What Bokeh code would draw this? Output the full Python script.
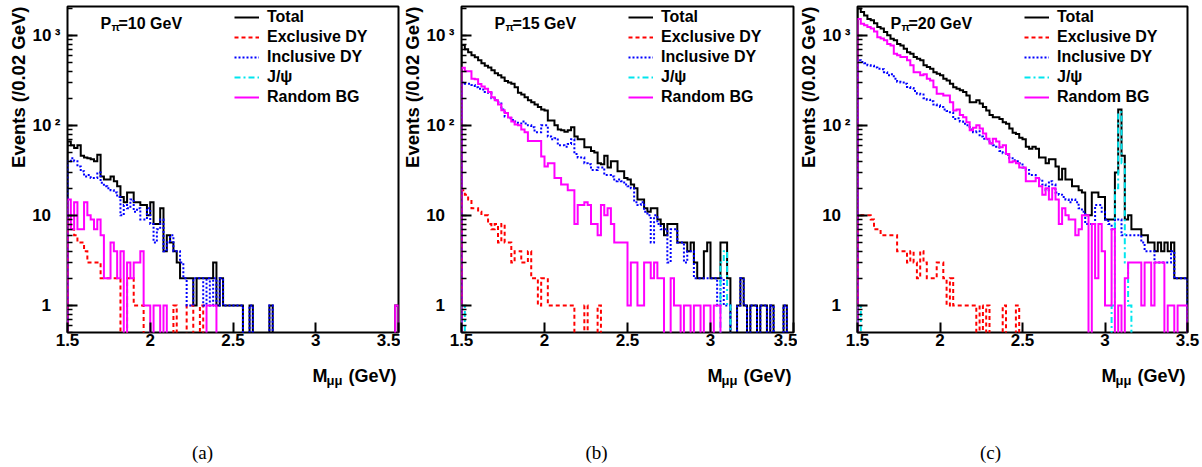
import math
from bokeh.plotting import figure
from bokeh.models import (Range1d, FixedTicker, CustomJSTickFormatter,
                          Label, Legend, LegendItem, Title)
from bokeh.layouts import row, column
from bokeh.embed import file_html
from bokeh.resources import INLINE

# ---------------- data (events per 0.02 GeV bin, 1.50 -> 3.50 GeV) ----------------
BIN_LO = 1.5
BIN_W = 0.02
N_BINS = 100
XTICKS = [1.5, 2.0, 2.5, 3.0, 3.5]
BEAM = ["10", "15", "20"]
CAPTIONS = ["(a)", "(b)", "(c)"]
SERIES_NAMES = ["Total", "Exclusive DY", "Inclusive DY", "J/\u03c8", "Random BG"]

total_10 = [66, 60, 56, 60, 46, 44, 43, 42, 40, 47,
            27, 25, 25, 27, 24, 21, 16, 14, 18, 18,
            14, 14, 13, 13, 10, 14, 8, 8, 12, 4,
            6, 5, 4, 3, 2, 2, 2, 2, 1, 2,
            2, 2, 2, 2, 3, 1, 2, 1, 1, 1,
            1, 1, 1, 0, 0, 1, 0, 0, 0, 0,
            0, 1, 0, 0, 0, 0, 0, 0, 0, 0,
            0, 0, 0, 0, 0, 0, 0, 0, 0, 0,
            0, 0, 0, 0, 0, 0, 0, 0, 0, 0,
            0, 0, 0, 0, 0, 0, 0, 0, 0, 1]
excl_10 = [9, 7, 6, 5, 5, 4, 3, 3, 3, 3,
           2, 2, 2, 2, 2, 2, 0, 0, 2, 2,
           1, 1, 1, 0, 0, 0, 0, 0, 0, 0,
           0, 0, 1, 0, 0, 0, 1, 1, 0, 0,
           1, 0, 0, 0, 0, 0, 0, 0, 0, 0]
incl_10 = [40, 43, 40, 35, 31, 27, 28, 26, 26, 30,
           23, 21, 20, 19, 18, 16, 10, 13, 12, 15,
           11, 12, 9, 9, 12, 8, 5, 7, 9, 4,
           5, 6, 4, 4, 3, 2, 1, 1, 2, 2,
           2, 1, 2, 1, 2, 1, 2, 1, 1, 1,
           1, 1, 1, 0, 0, 1, 0, 0, 0, 0,
           0, 1, 0, 0, 0, 0, 0, 0, 0, 0]
jpsi_10 = [0, 0, 0, 0, 0, 0, 0, 0, 0, 0]
rand_10 = [15, 7, 14, 7, 7, 14, 10, 9, 7, 9,
           6, 2, 2, 5, 4, 2, 4, 0, 3, 2,
           3, 3, 4, 1, 1, 0, 1, 1, 0, 1,
           0, 0, 0, 0, 0, 0, 0, 0, 0, 0,
           0, 0, 1, 1, 1, 0, 0, 0, 0, 0,
           0, 0, 0, 0, 0, 0, 0, 0, 0, 0,
           0, 0, 0, 0, 0, 0, 0, 0, 0, 0,
           0, 0, 0, 0, 0, 0, 0, 0, 0, 0,
           0, 0, 0, 0, 0, 0, 0, 0, 0, 0,
           0, 0, 0, 0, 0, 0, 0, 0, 0, 1]

total_15 = [780, 700, 650, 600, 570, 530, 490, 460, 440, 410,
            380, 360, 340, 310, 300, 290, 265, 230, 220, 205,
            190, 180, 170, 160, 150, 146, 113, 113, 100, 90,
            88, 85, 88, 95, 75, 70, 70, 57, 57, 52,
            50, 38, 37, 46, 34, 40, 40, 31, 31, 26,
            25, 22, 20, 15, 15, 12, 11, 12, 12, 9,
            8, 6, 8, 8, 8, 5, 5, 5, 4, 5,
            3, 2, 2, 4, 5, 2, 2, 2, 5, 5,
            2, 0, 0, 1, 2, 1, 0, 1, 1, 0,
            1, 1, 0, 1, 0, 0, 0, 1, 0, 0]
excl_15 = [19, 17, 15, 12, 12, 11, 10, 10, 8, 7,
           8, 5, 8, 5, 5, 3, 4, 4, 3, 3,
           4, 2, 2, 1, 2, 2, 1, 1, 1, 1,
           1, 1, 1, 1, 0, 0, 0, 1, 0, 0,
           0, 1, 0, 0, 0, 0, 0, 0, 0, 0]
incl_15 = [300, 290, 290, 280, 265, 255, 250, 235, 230, 200,
           190, 180, 150, 125, 120, 115, 110, 105, 110, 105,
           100, 95, 84, 84, 100, 100, 75, 70, 72, 60,
           60, 58, 62, 70, 48, 44, 44, 38, 37, 32,
           32, 34, 34, 28, 28, 27, 24, 25, 24, 22,
           21, 20, 14, 13, 14, 11, 10, 5, 10, 8,
           7, 7, 3, 7, 7, 5, 5, 3, 4, 4,
           2, 2, 2, 2, 2, 2, 2, 1, 2, 1,
           1, 0, 0, 1, 2, 1, 0, 1, 1, 0,
           1, 1, 0, 1, 0, 0, 0, 1, 0, 0]
jpsi_15 = [1, 0, 0, 0, 0, 0, 0, 0, 0, 0,
           0, 0, 0, 0, 0, 0, 0, 0, 0, 0,
           0, 0, 0, 0, 0, 0, 0, 0, 0, 0,
           0, 0, 0, 0, 0, 0, 0, 0, 0, 0,
           0, 0, 0, 0, 0, 0, 0, 0, 0, 0,
           0, 0, 0, 0, 0, 0, 0, 0, 0, 0,
           0, 0, 0, 0, 0, 0, 0, 0, 0, 0,
           0, 0, 0, 0, 0, 0, 0, 0, 3, 4,
           1, 0, 0, 0, 0, 0, 0, 0, 0, 0]
rand_15 = [437, 400, 400, 330, 326, 288, 270, 255, 235, 205,
           190, 170, 147, 137, 122, 110, 102, 100, 90, 84,
           67, 67, 67, 67, 45, 35, 38, 38, 26, 26,
           22, 22, 19, 19, 8, 13, 13, 14, 13, 8,
           8, 6, 13, 10, 12, 8, 5, 5, 5, 5,
           1, 3, 3, 1, 1, 3, 3, 2, 3, 2,
           2, 0, 0, 2, 1, 1, 0, 1, 1, 0,
           1, 1, 0, 1, 1, 0, 1, 1, 0, 0]

total_20 = [1980, 1815, 1660, 1520, 1470, 1360, 1240, 1190, 1090, 1000,
            915, 880, 800, 770, 710, 650, 625, 575, 550, 530,
            465, 445, 425, 390, 375, 360, 330, 315, 290, 265,
            255, 245, 235, 215, 180, 180, 190, 175, 160, 146,
            130, 123, 123, 118, 108, 104, 92, 83, 80, 73,
            70, 58, 55, 58, 55, 44, 44, 38, 42, 42,
            35, 25, 33, 25, 25, 21, 21, 19, 18, 10,
            10, 18, 18, 16, 16, 9, 9, 9, 30, 150,
            46, 9, 10, 7, 7, 7, 6, 6, 5, 5,
            4, 5, 4, 5, 4, 5, 2, 2, 2, 2]
excl_20 = [10, 10, 10, 10, 9, 7, 7, 6, 6, 6,
           6, 6, 4, 4, 4, 3, 4, 3, 2, 4,
           3, 2, 2, 2, 3, 3, 2, 1, 2, 1,
           1, 1, 1, 1, 1, 1, 0, 1, 0, 1,
           0, 0, 0, 0, 1, 0, 0, 0, 1, 0]
incl_20 = [530, 507, 490, 464, 460, 440, 425, 420, 390, 360,
           370, 330, 305, 300, 290, 267, 260, 240, 225, 220,
           200, 193, 185, 170, 167, 160, 150, 144, 140, 118,
           120, 110, 104, 100, 90, 84, 86, 75, 71, 70,
           63, 60, 58, 52, 49, 47, 43, 41, 40, 38,
           34, 32, 28, 28, 26, 25, 22, 19, 24, 22,
           18, 17, 16, 15, 14, 15, 14, 12, 11, 8,
           8, 8, 13, 13, 11, 9, 8, 7, 9, 9,
           6, 6, 6, 6, 6, 6, 5, 4, 4, 4,
           3, 3, 3, 3, 3, 4, 2, 2, 2, 2]
jpsi_20 = [1, 0, 0, 0, 0, 0, 0, 0, 0, 0,
           0, 0, 0, 0, 0, 0, 0, 0, 0, 0,
           0, 0, 0, 0, 0, 0, 0, 0, 0, 0,
           0, 0, 0, 0, 0, 0, 0, 0, 0, 0,
           0, 0, 0, 0, 0, 0, 0, 0, 0, 0,
           0, 0, 0, 0, 0, 0, 0, 0, 0, 0,
           0, 0, 0, 0, 0, 0, 0, 0, 0, 0,
           0, 0, 0, 0, 0, 0, 0, 1, 20, 140,
           38, 3, 1, 0, 0, 0, 0, 0, 0, 0]
rand_20 = [1520, 1345, 1290, 1240, 1190, 1100, 950, 920, 880, 800,
           770, 625, 600, 575, 575, 530, 465, 390, 390, 360,
           370, 330, 315, 265, 225, 225, 215, 215, 180, 146,
           150, 130, 123, 108, 88, 94, 100, 92, 81, 71,
           63, 71, 66, 57, 60, 48, 39, 40, 38, 34,
           34, 24, 24, 24, 26, 21, 17, 20, 15, 20,
           15, 8, 12, 10, 9, 9, 6, 7, 10, 10,
           0, 8, 2, 8, 4, 1, 1, 7, 0, 1,
           0, 2, 3, 3, 3, 3, 1, 3, 3, 1,
           3, 3, 3, 0, 1, 1, 0, 1, 1, 1]

PANELS = [
    [total_10, excl_10, incl_10, jpsi_10, rand_10],
    [total_15, excl_15, incl_15, jpsi_15, rand_15],
    [total_20, excl_20, incl_20, jpsi_20, rand_20],
]

# ---------------- styles / layout ----------------
FONT = "Liberation Sans"
STYLES = [
    dict(line_color="black", line_width=2),
    dict(line_color="#ff0000", line_width=2, line_dash="4 3"),
    dict(line_color="#0000ff", line_width=2, line_dash="2 2"),
    dict(line_color="#00e5ee", line_width=2, line_dash="6 3 2 3"),
    dict(line_color="#ff00ff", line_width=2),
]
FLOOR = 0.05  # empty bins drop below the frame, as in ROOT
Y_LO, Y_HI = 0.5, 2090.0
EDGES = [round(BIN_LO + BIN_W * i, 4) for i in range(N_BINS + 1)]

# (figure width, left border, right border) per panel
GEOM = [(400, 67, 2), (397, 61, 4), (405, 58, 15)]
TOP_B, FRAME_H, BOT_B = 6, 326, 24
NOTE_H = 467 - (TOP_B + FRAME_H + BOT_B)

# ROOT-like log labels: 1, 10, 10^2, 10^3 (exponent sits next to the axis)
Y_FORMAT_JS = (
    "const e = Math.round(Math.log10(tick));"
    "const sup = {2: '\u00b2', 3: '\u00b3', 4: '\u2074'};"
    "if (e <= 1) { return tick.toFixed(0) + '\u2007'; }"
    "return '10\u2009' + sup[e];"
)


def hist_outline(vals):
    v = (list(vals) + [0] * N_BINS)[:N_BINS]
    xs, ys = [EDGES[0]], [FLOOR]
    for i, c in enumerate(v):
        y = c if c > 0 else FLOOR
        xs += [EDGES[i], EDGES[i + 1]]
        ys += [y, y]
    xs.append(EDGES[-1])
    ys.append(FLOOR)
    return xs, ys


def lab(p, x, y, text, size, units="screen", **kw):
    opts = dict(x=x, y=y, x_units=units, y_units=units, text=text,
                text_font=FONT, text_font_style="bold", text_font_size=size,
                text_color="black", text_baseline="alphabetic", text_align="left")
    opts.update(kw)
    p.add_layout(Label(**opts))


def make_panel(k):
    width, bl, br = GEOM[k]
    p = figure(width=width, height=TOP_B + FRAME_H + BOT_B, x_range=Range1d(1.5, 3.5),
               y_range=Range1d(Y_LO, Y_HI), y_axis_type="log",
               output_backend="svg", toolbar_location=None,
               min_border_left=bl, min_border_right=br,
               min_border_top=TOP_B, min_border_bottom=BOT_B)
    p.background_fill_color = "white"
    p.border_fill_color = "white"
    p.xgrid.visible = False
    p.ygrid.visible = False
    p.outline_line_color = "black"
    p.outline_line_width = 2
    p.outline_line_alpha = 1.0

    xa = p.xaxis[0]
    xa.ticker = FixedTicker(ticks=XTICKS)
    xa.formatter = CustomJSTickFormatter(code="return tick.toString();")
    xa.axis_line_color = None
    xa.major_tick_in = 10
    xa.major_tick_out = 0
    xa.major_tick_line_color = "black"
    xa.major_tick_line_width = 2
    xa.minor_tick_line_color = None
    xa.major_label_text_font = FONT
    xa.major_label_text_font_style = "bold"
    xa.major_label_text_font_size = "17px"
    xa.major_label_text_color = "black"
    xa.major_label_standoff = 1

    ya = p.yaxis[0]
    ya.formatter = CustomJSTickFormatter(code=Y_FORMAT_JS)
    ya.axis_line_color = None
    ya.major_tick_in = 10
    ya.major_tick_out = 0
    ya.minor_tick_in = 5
    ya.minor_tick_out = 0
    ya.major_tick_line_color = "black"
    ya.major_tick_line_width = 2
    ya.minor_tick_line_color = "black"
    ya.minor_tick_line_width = 1.5
    ya.major_label_text_font = FONT
    ya.major_label_text_font_style = "bold"
    ya.major_label_text_font_size = "17px"
    ya.major_label_text_color = "black"
    ya.major_label_standoff = 7

    # y-axis title (ROOT style: aligned with the top of the axis)
    p.add_layout(Title(text="Events (/0.02 GeV)", align="right", vertical_align="middle",
                       standoff=-1, text_font=FONT, text_font_style="bold",
                       text_font_size="18.5px", text_color="black"), "left")

    renderers = []
    for vals, st in zip(PANELS[k], STYLES):
        xs, ys = hist_outline(vals)
        renderers.append(p.line(xs, ys, line_join="miter", **st))

    legend = Legend(items=[LegendItem(label=n, renderers=[r]) for n, r in zip(SERIES_NAMES, renderers)],
                    location=(167, 225), glyph_width=25, glyph_height=20, label_height=20,
                    label_standoff=8, spacing=0, padding=0, margin=0,
                    border_line_color=None, background_fill_alpha=0,
                    label_text_font=FONT, label_text_font_style="bold",
                    label_text_font_size="16px", label_text_color="black")
    p.add_layout(legend)

    # panel title  P_pi = xx GeV
    lab(p, 33, 309, "P", "16px")
    lab(p, 44, 306, "\u03c0", "11px")
    lab(p, 51, 309, "=" + BEAM[k] + " GeV", "16px")
    return p


def make_note(k):
    """Strip under a panel holding the x-axis title and the sub-figure caption."""
    width, bl, br = GEOM[k]
    n = figure(width=width, height=NOTE_H, x_range=Range1d(0, width), y_range=Range1d(0, NOTE_H),
               output_backend="svg", toolbar_location=None,
               x_axis_location=None, y_axis_location=None,
               min_border_left=0, min_border_right=0, min_border_top=0, min_border_bottom=0)
    n.xgrid.visible = False
    n.ygrid.visible = False
    n.outline_line_color = None
    n.background_fill_color = "white"
    n.border_fill_color = "white"
    fr = width - br  # right edge of the panel's frame
    base = NOTE_H - (375 - (TOP_B + FRAME_H + BOT_B))
    lab(n, fr - 86, base, "M", "18px", units="data")
    lab(n, fr - 72, base - 5, "\u03bc\u03bc", "13px", units="data")
    lab(n, fr - 50, base, "(GeV)", "18px", units="data")
    lab(n, bl + 135, 15, CAPTIONS[k], "19px", units="data", text_font="Liberation Serif",
        text_font_style="normal", text_align="center", text_baseline="middle")
    return n


panels = [make_panel(k) for k in range(3)]
notes = [make_note(k) for k in range(3)]
layout = column(row(*panels), row(*notes))

open("out.html", "w").write(file_html(layout, INLINE))
